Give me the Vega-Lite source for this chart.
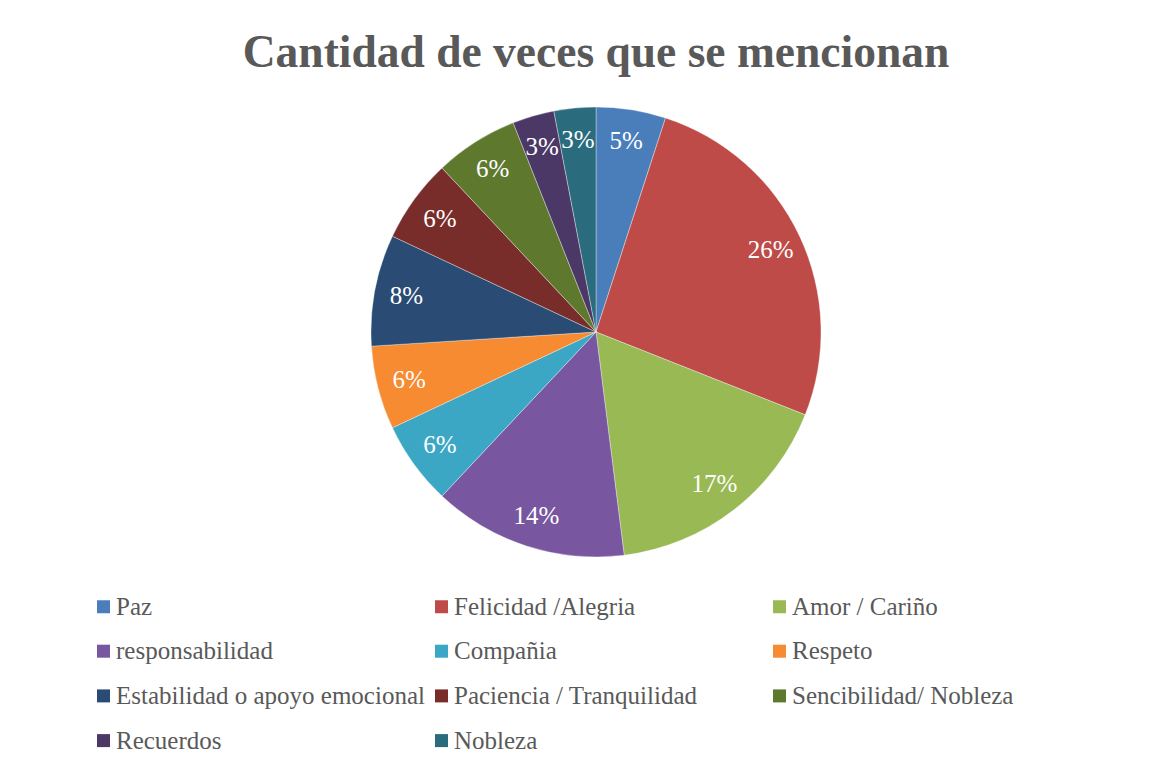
{
  "$schema": "https://vega.github.io/schema/vega-lite/v6.json",
  "autosize": {"type": "none"},
  "width": 1160,
  "height": 464,
  "padding": {"left": 16, "top": 100, "right": 0, "bottom": 205},
  "background": "white",
  "title": {
    "text": "Cantidad de veces que se mencionan",
    "font": "Liberation Serif",
    "fontSize": 45.5,
    "fontWeight": "bold",
    "color": "#595959",
    "anchor": "middle",
    "offset": 24
  },
  "data": {
    "values": [
      {"i": 1, "categoria": "Paz", "valor": 5, "etiqueta": "5%"},
      {"i": 2, "categoria": "Felicidad /Alegria", "valor": 26, "etiqueta": "26%"},
      {"i": 3, "categoria": "Amor / Cariño", "valor": 17, "etiqueta": "17%"},
      {"i": 4, "categoria": "responsabilidad", "valor": 14, "etiqueta": "14%"},
      {"i": 5, "categoria": "Compañia", "valor": 6, "etiqueta": "6%"},
      {"i": 6, "categoria": "Respeto", "valor": 6, "etiqueta": "6%"},
      {"i": 7, "categoria": "Estabilidad o apoyo emocional", "valor": 8, "etiqueta": "8%"},
      {"i": 8, "categoria": "Paciencia / Tranquilidad", "valor": 6, "etiqueta": "6%"},
      {"i": 9, "categoria": "Sencibilidad/ Nobleza", "valor": 6, "etiqueta": "6%"},
      {"i": 10, "categoria": "Recuerdos", "valor": 3, "etiqueta": "3%"},
      {"i": 11, "categoria": "Nobleza", "valor": 3, "etiqueta": "3%"}
    ]
  },
  "encoding": {
    "theta": {"field": "valor", "type": "quantitative", "stack": true},
    "order": {"field": "i", "type": "quantitative"},
    "color": {
      "field": "categoria",
      "type": "nominal",
      "scale": {
        "domain": ["Paz", "Felicidad /Alegria", "Amor / Cariño", "responsabilidad", "Compañia", "Respeto", "Estabilidad o apoyo emocional", "Paciencia / Tranquilidad", "Sencibilidad/ Nobleza", "Recuerdos", "Nobleza"],
        "range": ["#4A7EBB", "#BE4B48", "#98B954", "#7856A0", "#3BA7C4", "#F68B32", "#294B74", "#782D2B", "#5E782E", "#4B3866", "#2A6C7D"]
      },
      "legend": {
        "title": null,
        "orient": "none",
        "legendX": 75,
        "legendY": 494,
        "direction": "horizontal",
        "columns": 3,
        "gridAlign": "all",
        "symbolType": "square",
        "symbolSize": 169,
        "symbolStrokeWidth": 0,
        "labelFont": "Liberation Serif",
        "labelFontSize": 25,
        "labelColor": "#595959",
        "labelOffset": 0,
        "labelLimit": 400,
        "columnPadding": 4,
        "rowPadding": 18.7,
        "padding": 0
      }
    }
  },
  "layer": [
    {
      "mark": {"type": "arc", "radius": 225, "stroke": "#ffffff", "strokeOpacity": 0.35, "strokeWidth": 1}
    },
    {
      "mark": {"type": "text", "radius": 193, "font": "Liberation Serif", "fontSize": 25, "fill": "white", "baseline": "middle", "align": "center"},
      "encoding": {
        "text": {"field": "etiqueta", "type": "nominal"},
        "color": {"value": "white"}
      }
    }
  ],
  "config": {"view": {"stroke": null}}
}
